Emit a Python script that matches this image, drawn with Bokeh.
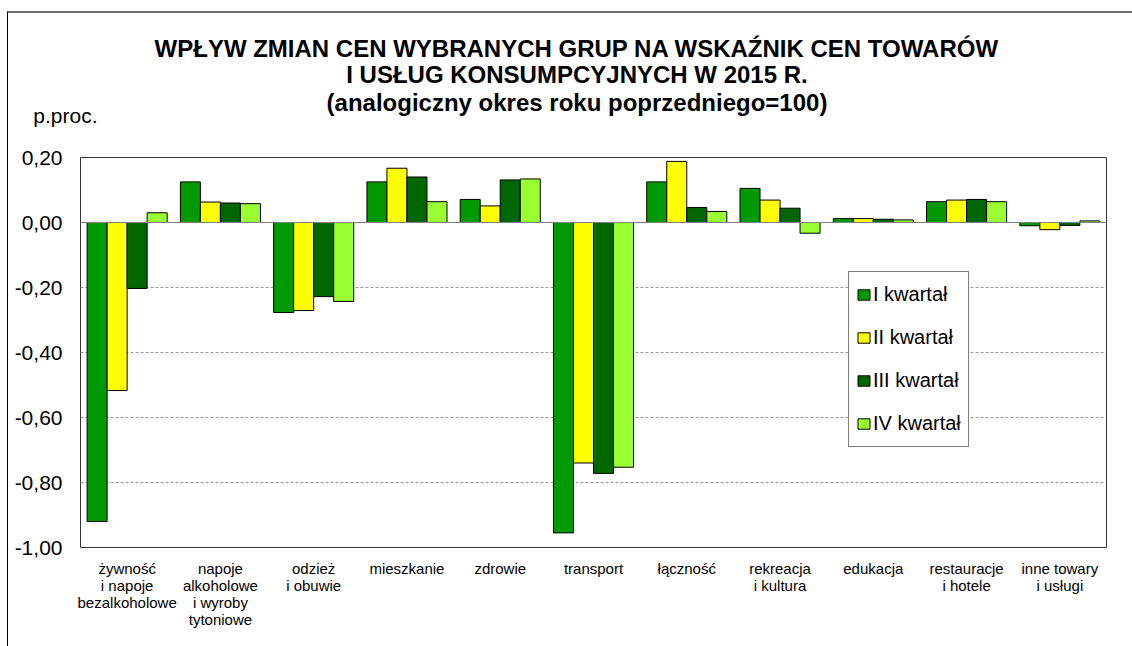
from bokeh.plotting import figure
from bokeh.models import ColumnDataSource, FixedTicker, Legend, LegendItem, Span
from bokeh.layouts import column
from bokeh.transform import dodge
from bokeh.embed import file_html
from bokeh.resources import INLINE
from bokeh.core.properties import value

categories = [
    "żywność\ni napoje\nbezalkoholowe",
    "napoje\nalkoholowe\ni wyroby\ntytoniowe",
    "odzież\ni obuwie",
    "mieszkanie",
    "zdrowie",
    "transport",
    "łączność",
    "rekreacja\ni kultura",
    "edukacja",
    "restauracje\ni hotele",
    "inne towary\ni usługi",
]
quarters = ["I kwartał", "II kwartał", "III kwartał", "IV kwartał"]
q1 = [-0.92, 0.125, -0.277, 0.125, 0.071, -0.955, 0.125, 0.105, 0.012, 0.064, -0.010]
q2 = [-0.517, 0.063, -0.271, 0.167, 0.051, -0.740, 0.188, 0.069, 0.012, 0.069, -0.022]
q3 = [-0.203, 0.060, -0.228, 0.140, 0.131, -0.772, 0.046, 0.044, 0.010, 0.071, -0.009]
q4 = [0.030, 0.058, -0.243, 0.064, 0.134, -0.753, 0.034, -0.033, 0.008, 0.064, 0.005]
colors = ["#009900", "#FFFF00", "#006600", "#99FF33"]
y_ticks = [-1.0, -0.8, -0.6, -0.4, -0.2, 0.0, 0.2]
y_tick_labels = ["-1,00", "-0,80", "-0,60", "-0,40", "-0,20", "0,00", "0,20"]
title_lines = [
    "WPŁYW ZMIAN CEN WYBRANYCH GRUP NA WSKAŹNIK CEN TOWARÓW",
    "I USŁUG KONSUMPCYJNYCH W 2015 R.",
    "(analogiczny okres roku poprzedniego=100)",
]
unit_label = "p.proc."

FONT = "Liberation Sans"
ML, MR, FW = 72, 27, 1025

# ---------- header (title + unit label) in pixel-like coordinates ----------
HH = 130
header = figure(frame_width=FW, frame_height=HH,
                min_border_left=ML, min_border_right=MR, min_border_top=0, min_border_bottom=0,
                x_range=(0, FW), y_range=(HH, 0),
                output_backend="svg", toolbar_location=None,
                background_fill_color="white", border_fill_color="white",
                outline_line_color=None)
header.xaxis.visible = False
header.grid.visible = False
title_pos_x = [496, 496, 496]
title_pos_y = [34, 60.5, 88]
header.text(x=title_pos_x, y=title_pos_y, text=title_lines,
            text_font=value(FONT), text_font_size="24px", text_font_style="bold",
            text_align="center", text_baseline="middle", text_color="black")
unit_pos_y = 100.5
hy = header.yaxis[0]
hy.ticker = FixedTicker(ticks=[unit_pos_y])
hy.major_label_overrides = {unit_pos_y: unit_label}
hy.major_label_text_font = FONT
hy.major_label_text_font_size = "21px"
hy.major_label_text_color = "black"
hy.axis_line_color = None
hy.major_tick_line_color = None
hy.minor_tick_line_color = None
hy.major_tick_out = 0
hy.major_tick_in = 0
hy.major_label_standoff = -17
header.styles = {"border-top": "2px solid #707070", "border-left": "1px solid #000000"}
header.margin = (11, 0, 0, 7)

# ---------- main chart ----------
x = list(range(len(categories)))
source = ColumnDataSource(dict(x=x, q1=q1, q2=q2, q3=q3, q4=q4))

p = figure(
    frame_width=FW, frame_height=390,
    min_border_left=ML, min_border_right=MR, min_border_top=14, min_border_bottom=99,
    x_range=(-0.5, len(categories) - 0.5), y_range=(-1.0, 0.2),
    output_backend="svg", toolbar_location=None,
    background_fill_color="white", border_fill_color="white",
    outline_line_color="#333333", outline_line_width=1,
)
p.styles = {"border-left": "1px solid #000000"}
p.margin = (0, 0, 0, 7)

bw = 0.2146
offsets = [-1.5 * bw, -0.5 * bw, 0.5 * bw, 1.5 * bw]
renderers = []
for key, off, col in zip(["q1", "q2", "q3", "q4"], offsets, colors):
    r = p.vbar(x=dodge("x", off, range=p.x_range), top=key, bottom=0, width=bw,
               source=source, fill_color=col, line_color="black", line_width=1)
    renderers.append(r)

p.add_layout(Span(location=0, dimension="width", line_color="#808080", line_width=1))

p.xgrid.grid_line_color = None
p.ygrid.ticker = FixedTicker(ticks=y_ticks)
p.ygrid.grid_line_color = "#9a9a9a"
p.ygrid.grid_line_dash = "3 2"
p.ygrid.grid_line_width = 1

xa = p.xaxis[0]
xa.ticker = FixedTicker(ticks=x)
xa.major_label_overrides = {i: c for i, c in zip(x, categories)}
xa.major_label_text_font = FONT
xa.major_label_text_font_size = "15px"
xa.major_label_text_line_height = 1.0
xa.major_label_text_color = "black"
xa.axis_line_color = None
xa.major_tick_line_color = None
xa.minor_tick_line_color = None
xa.major_tick_out = 0
xa.major_tick_in = 0
xa.major_label_standoff = 12

ya = p.yaxis[0]
ya.ticker = FixedTicker(ticks=y_ticks)
ya.major_label_overrides = {(int(v) if v == int(v) else v): l for v, l in zip(y_ticks, y_tick_labels)}
ya.major_label_text_font = FONT
ya.major_label_text_font_size = "21px"
ya.major_label_text_color = "black"
ya.axis_line_color = None
ya.major_tick_line_color = None
ya.minor_tick_line_color = None
ya.major_tick_out = 0
ya.major_tick_in = 0
ya.major_label_standoff = 18

legend = Legend(
    items=[LegendItem(label=q, renderers=[r]) for q, r in zip(quarters, renderers)],
    location=(768, 100),
    glyph_width=15, glyph_height=13, label_standoff=2,
    label_height=31, spacing=12, padding=7, margin=0,
    label_text_font=FONT, label_text_font_size="20px", label_text_color="black",
    border_line_color="black", border_line_width=1,
    background_fill_color="white", background_fill_alpha=1,
)
p.add_layout(legend)

layout = column(header, p, spacing=0)
open("out.html", "w").write(file_html(layout, INLINE))
